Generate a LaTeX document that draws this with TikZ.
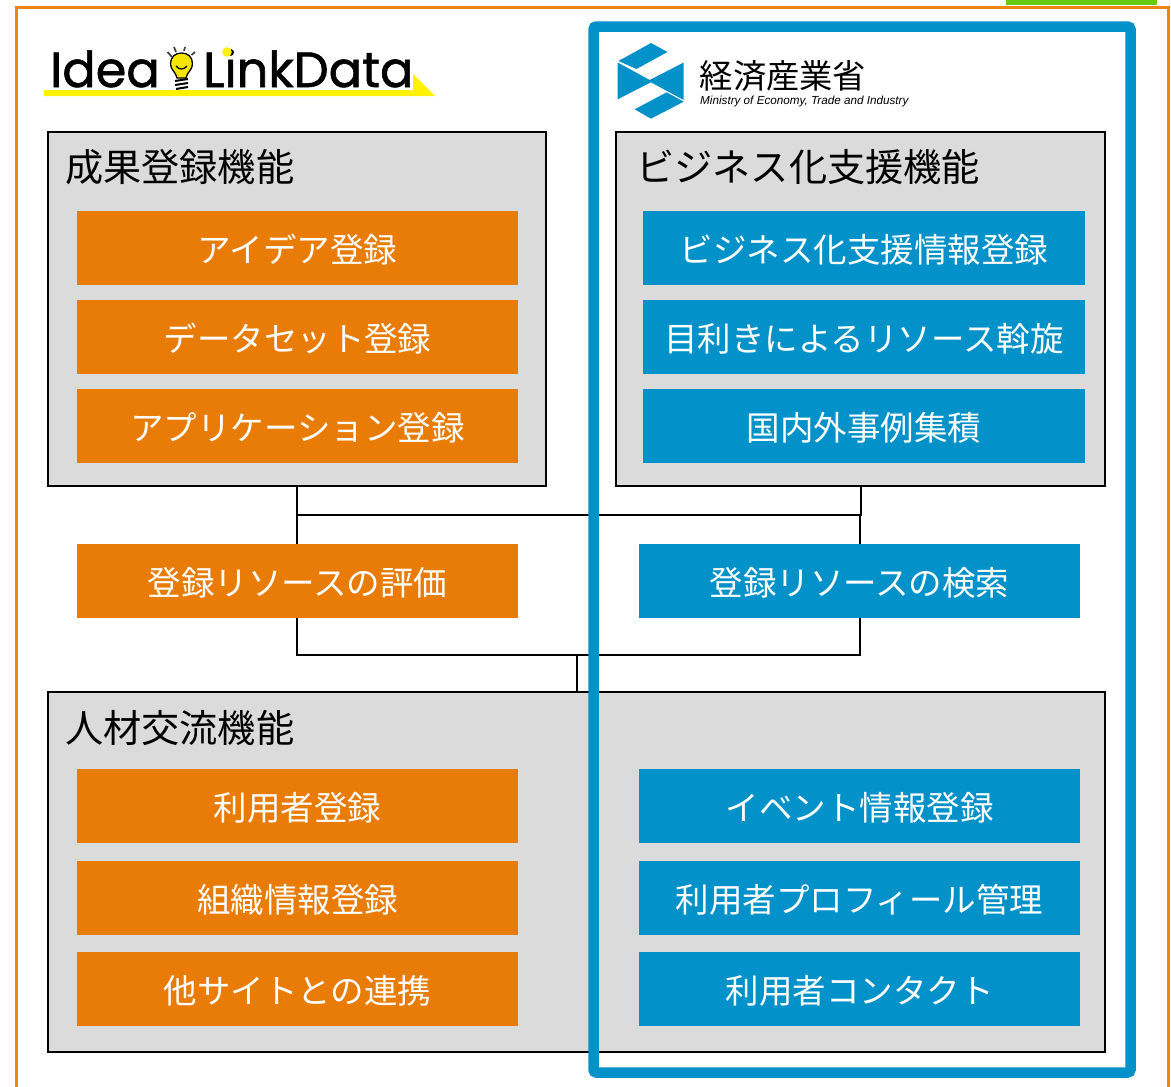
\documentclass[tikz,border=0pt]{standalone}
\usepackage{fontspec}
\usetikzlibrary{calc}
\setmainfont{Noto Sans CJK JP}
\newfontfamily\logofont[FakeBold=1.2]{Poppins}
\newfontfamily\subfont{Liberation Sans}
\definecolor{oboxc}{HTML}{E97C07}
\definecolor{bboxc}{HTML}{0291C8}
\definecolor{greyc}{HTML}{DBDBDB}
\definecolor{framec}{HTML}{EE8412}
\definecolor{greenc}{HTML}{66CC11}
\definecolor{yellowc}{HTML}{FFF200}
\definecolor{bulbc}{HTML}{F5E600}
\tikzset{
  x=1pt,y=-1pt,
  panel/.style={draw=black,line width=2pt,fill=greyc,inner sep=0pt,outer sep=0pt},
  fbox/.style={minimum width=441.5pt,minimum height=74.5pt,inner sep=0pt,outer sep=0pt,text=white,
    text depth=0pt,font=\fontsize{33.5}{40}\selectfont},
  obox/.style={fbox,fill=oboxc},
  bbox/.style={fbox,fill=bboxc},
  paneltitle/.style={anchor=west,inner sep=0pt,text=black,font=\fontsize{38.2}{44}\selectfont},
  link/.style={draw=black,line width=2pt},
  logotext/.style={anchor=base west,inner sep=0pt,text=black,font=\logofont\fontsize{49.4}{56}\selectfont},
  methi/.style={fill=bboxc,draw=none}
}
\begin{document}
\begin{tikzpicture}
\clip (0,0) rectangle (1171,1087);
\fill[white] (0,0) rectangle (1171,1087);
% corner tab and outer frame
\fill[greenc] (1006,0) rectangle (1157,5);
\draw[framec,line width=3pt] (16,1100) -- (16,7) -- (1168,7) -- (1168,1100);
% panels
\node[panel,minimum width=498pt,minimum height=354pt] (A) at (297,309) {};
\node[panel,minimum width=489pt,minimum height=354pt] (B) at (860.5,309) {};
\node[panel,minimum width=1057pt,minimum height=360pt] (C) at (576.5,872) {};
\node[paneltitle] (At) at (65,167) {成果登録機能};
\node[paneltitle] (Bt) at (636,167) {ビジネス化支援機能};
\node[paneltitle] (Ct) at (65,728) {人材交流機能};
% connectors
\coordinate (j1) at ($(A.south)+(0,29)$);
\coordinate (j2) at ($(B.south)+(0,29)$);
\coordinate (j3) at ($(C.north)+(0,-37)$);
\draw[link] (A.south) -- (j1) -- (j2) -- (B.south);
\node[obox] (ev) at (297.5,581) {登録リソースの評価};
\node[bbox] (se) at (859.5,581) {登録リソースの検索};
\draw[link] (j1) -- (j1 |- ev.north);
\draw[link] (se.north) -- (se.north |- j2);
\draw[link] (j1 |- ev.south) |- (j3) -| (se.south);
\draw[link] (j3) -- (C.north);
% upper left
\node[obox] (a1) at (297.5,248) {アイデア登録};
\node[obox] (a2) at (297.5,337) {データセット登録};
\node[obox] (a3) at (297.5,426) {アプリケーション登録};
% upper right
\node[bbox] (b1) at (864,248) {ビジネス化支援情報登録};
\node[bbox] (b2) at (864,337) {目利きによるリソース斡旋};
\node[bbox] (b3) at (864,426) {国内外事例集積};
% lower left
\node[obox] (c1) at (297.5,806) {利用者登録};
\node[obox] (c2) at (297.5,898) {組織情報登録};
\node[obox] (c3) at (297.5,989) {他サイトとの連携};
% lower right
\node[bbox] (d1) at (859.5,806) {イベント情報登録};
\node[bbox] (d2) at (859.5,898) {利用者プロフィール管理};
\node[bbox] (d3) at (859.5,989) {利用者コンタクト};
% blue frame on top
\draw[bboxc,line width=10.5pt,rounded corners=3pt] (593.5,26.5) rectangle (1130.5,1072.5);
% Idea LinkData logo
\fill[yellowc] (44,90) -- (413,90) -- (413,74) -- (435,96) -- (44,96) -- cycle;
\node[logotext] (idea) at (50,87) {Idea};
\node[logotext] (ld) at (203,87) {LinkData};
\fill[yellowc] (227,52) circle (4.8);
\fill[bulbc,draw=black,line width=1.3pt] (177,78) .. controls (176,72) and (170.5,70) .. (170.5,64) .. controls (170.5,57) and (175,53) .. (181.5,53) .. controls (188,53) and (192.5,57) .. (192.5,64) .. controls (192.5,70) and (187,72) .. (186,78) -- cycle;
\draw[black,line width=1.3pt] (176,66) .. controls (179,70) and (184,70) .. (187,66);
\draw[black,line width=2pt] (175,81) -- (188,79) (175,85) -- (188,83) (176,89) -- (188,87);
\draw[black!75,line width=1.7pt] (167.5,52) -- (172,57) (174,47) -- (176,52) (185,47) -- (184,51) (195,52) -- (191.5,55);
% METI logo
\fill[methi] (651,43) -- (667.5,52) -- (636.5,69) -- (618.5,61) -- cycle;
\fill[methi] (617.7,62.5) -- (649.7,80) -- (683.7,62.5) -- (683.7,100) -- (650.9,82.3) -- (617.7,99.3) -- cycle;
\fill[methi] (666.7,92.3) -- (683.7,101.7) -- (650.9,118.7) -- (634.7,109.3) -- cycle;
\node[anchor=center,inner sep=0pt,font=\fontsize{33.3}{38}\selectfont] (meti) at (783,76) {経済産業省};
\node[anchor=west,inner sep=0pt,font=\subfont\itshape\fontsize{11.7}{13}\selectfont] (metien) at (700,101) {Ministry of Economy, Trade and Industry};
\end{tikzpicture}
\end{document}
